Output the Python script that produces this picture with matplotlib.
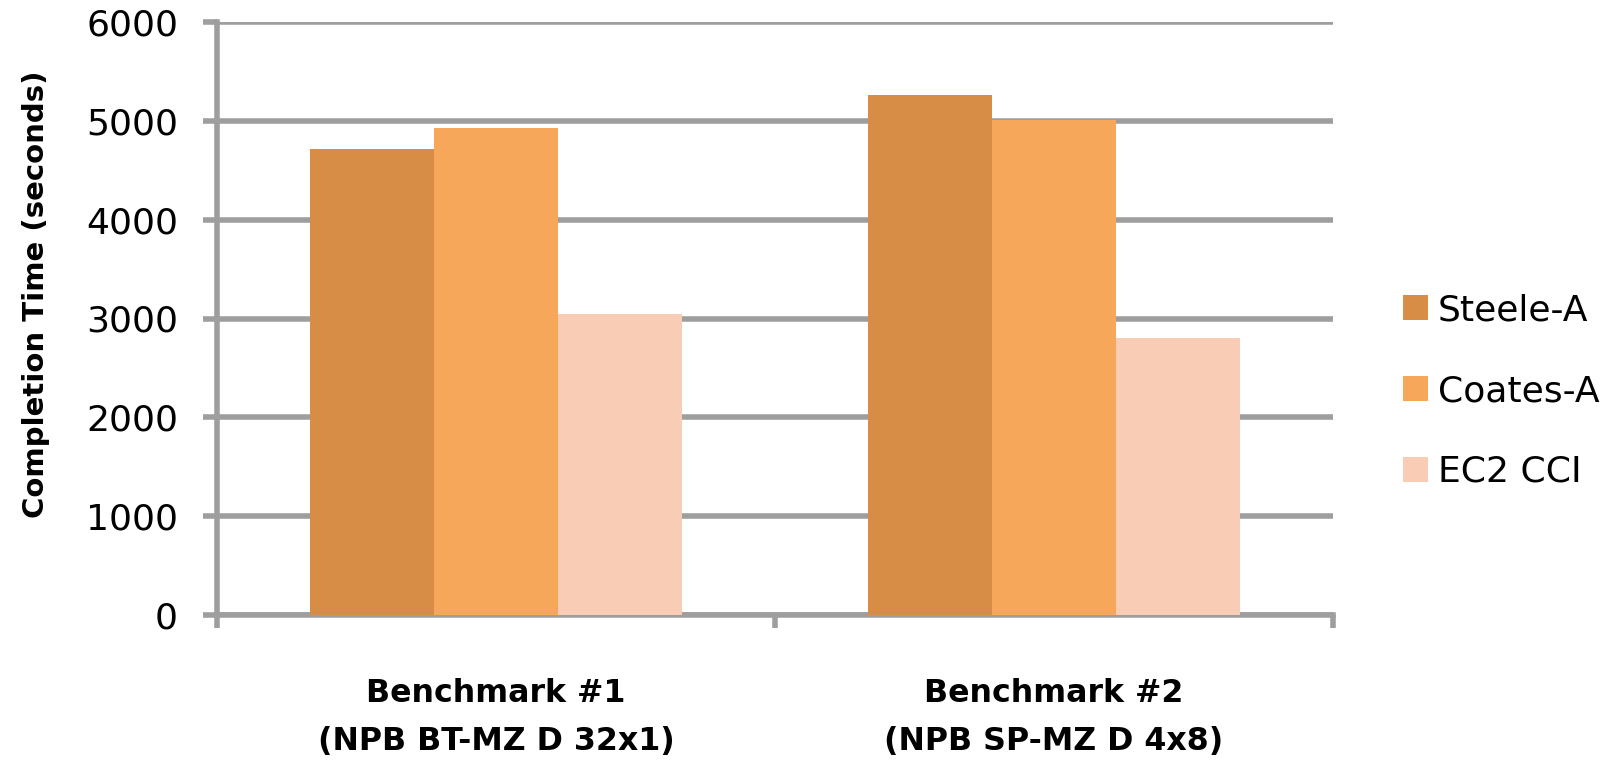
import matplotlib
matplotlib.use("Agg")
import matplotlib.pyplot as plt
import numpy as np
from matplotlib.patches import Patch

categories = ["Benchmark #1", "Benchmark #2"]
subtitles = ["(NPB BT-MZ D 32x1)", "(NPB SP-MZ D 4x8)"]
series_names = ["Steele-A", "Coates-A", "EC2 CCI"]
steele_a = [4720, 5260]
coates_a = [4930, 5010]
ec2_cci = [3050, 2800]
y_ticks = [0, 1000, 2000, 3000, 4000, 5000, 6000]

colors = ["#D88D46", "#F7A75A", "#F9CDB5"]
grid_gray = "#9E9E9E"

plt.rcParams["font.family"] = ["DejaVu Sans"]

fig = plt.figure(figsize=(16.08, 7.60), dpi=100)
W, H = 1608, 760
left, right, top, bottom = 217, 1333, 22, 615
ax = fig.add_axes([left / W, 1 - bottom / H, (right - left) / W, (bottom - top) / H])

x = np.arange(len(categories))
bw = 0.222
for i, (vals, c) in enumerate(zip([steele_a, coates_a, ec2_cci], colors)):
    ax.bar(x + (i - 1) * bw, vals, width=bw, color=c, zorder=3, linewidth=0)

ax.set_ylim(0, 6000)
ax.set_xlim(-0.5, len(categories) - 0.5)
ax.set_yticks(y_ticks)
ax.set_yticklabels([str(v) for v in y_ticks], fontsize=26)
ax.yaxis.grid(True, color=grid_gray, linewidth=4, zorder=0)
ax.set_axisbelow(True)

# category boundary tick marks on the x axis
ax.set_xticks(np.arange(-0.5, len(categories), 1.0))
ax.set_xticklabels([])
ax.tick_params(axis="x", direction="out", length=9.5, width=4, color=grid_gray)
ax.tick_params(axis="y", direction="out", length=10, width=4, color=grid_gray, pad=18)

for s in ["top", "right"]:
    ax.spines[s].set_visible(False)
for s in ["left", "bottom"]:
    ax.spines[s].set_color(grid_gray)
    ax.spines[s].set_linewidth(4)

xt = ax.get_xaxis_transform()
for xi, name, sub in zip(x, categories, subtitles):
    ax.text(xi, -0.146, name, transform=xt, ha="center", va="baseline",
            fontsize=22.8, fontweight="bold")
    ax.text(xi, -0.228, sub, transform=xt, ha="center", va="baseline",
            fontsize=22.8, fontweight="bold")

fig.text(36 / W, 1 - 294 / H, "Completion Time (seconds)", rotation=90,
         ha="center", va="center", fontsize=21, fontweight="bold")

handles = [Patch(facecolor=c, edgecolor="none") for c in colors]
fig.legend(handles, series_names, loc="center left", bbox_to_anchor=(1403 / W, 1 - 391 / H),
           frameon=False, fontsize=26, handlelength=0.69, handleheight=0.69,
           handletextpad=0.28, labelspacing=1.3, borderpad=0, borderaxespad=0)

fig.savefig("out.png", dpi=100, facecolor="white")
